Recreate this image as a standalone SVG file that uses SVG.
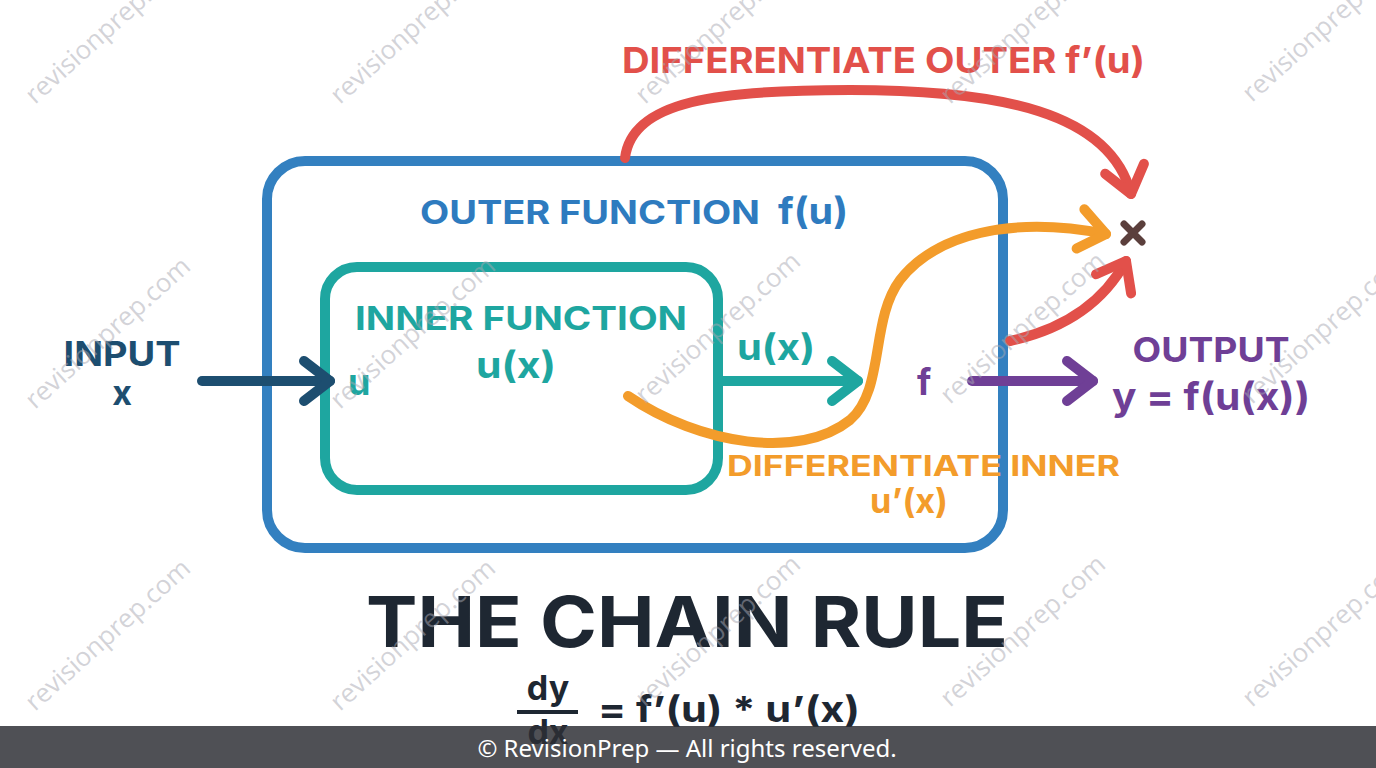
<svg xmlns="http://www.w3.org/2000/svg" width="1376" height="768" viewBox="0 0 1376 768">
<defs>
<style>
.t{font-family:"Inter","Open Sans","Liberation Sans",sans-serif;font-weight:700}
.wm{font-family:"Open Sans","Liberation Sans",sans-serif;font-size:26px;fill:#a8a8b2;fill-opacity:0.5}
.ln{fill:none;stroke-width:10;stroke-linecap:round;stroke-linejoin:round}
.box{fill:none;stroke-width:10}
</style>
<marker id="mNavy" markerUnits="userSpaceOnUse" markerWidth="60" markerHeight="60" refX="0" refY="0" viewBox="-40 -30 50 60" orient="auto" overflow="visible"><path d="M-26,-20 L0,0 L-26,20" fill="none" stroke="#1D4E70" stroke-width="10" stroke-linecap="round" stroke-linejoin="round"/></marker>
<marker id="mTeal" markerUnits="userSpaceOnUse" markerWidth="60" markerHeight="60" refX="0" refY="0" viewBox="-40 -30 50 60" orient="auto" overflow="visible"><path d="M-26,-20 L0,0 L-26,20" fill="none" stroke="#1EA6A0" stroke-width="10" stroke-linecap="round" stroke-linejoin="round"/></marker>
<marker id="mPurple" markerUnits="userSpaceOnUse" markerWidth="60" markerHeight="60" refX="0" refY="0" viewBox="-40 -30 50 60" orient="auto" overflow="visible"><path d="M-26,-20 L0,0 L-26,20" fill="none" stroke="#6F3F96" stroke-width="10" stroke-linecap="round" stroke-linejoin="round"/></marker>
<marker id="mOrange" markerUnits="userSpaceOnUse" markerWidth="60" markerHeight="60" refX="0" refY="0" viewBox="-40 -30 50 60" orient="auto" overflow="visible"><path d="M-26,-20 L0,0 L-26,20" fill="none" stroke="#F39C2B" stroke-width="10" stroke-linecap="round" stroke-linejoin="round"/></marker>
<marker id="mRed" markerUnits="userSpaceOnUse" markerWidth="60" markerHeight="60" refX="0" refY="0" viewBox="-40 -30 50 60" orient="auto" overflow="visible"><path d="M-26,-20 L0,0 L-26,20" fill="none" stroke="#E2504A" stroke-width="10" stroke-linecap="round" stroke-linejoin="round"/></marker>
</defs>
<rect width="1376" height="768" fill="#ffffff"/>

<g id="outer-function">
<rect class="box" x="267" y="161" width="736" height="387" rx="38" stroke="#3380C0"/>
<text class="t" x="420" y="224" font-size="32" fill="#2E7BBF" textLength="340" lengthAdjust="spacingAndGlyphs">OUTER FUNCTION</text>
<text class="t" x="778" y="224" font-size="37" fill="#2E7BBF" textLength="70" lengthAdjust="spacingAndGlyphs">f(u)</text>
<text class="t" x="917" y="395" font-size="36" fill="#6F3F96">f</text>
</g>

<g id="inner-function">
<rect class="box" x="325" y="267" width="393" height="223" rx="32" stroke="#1EA6A0"/>
<text class="t" x="521" y="330" font-size="33" fill="#1EA6A0" text-anchor="middle" textLength="332" lengthAdjust="spacingAndGlyphs">INNER FUNCTION</text>
<text class="t" x="516" y="378" font-size="37" fill="#1EA6A0" text-anchor="middle" textLength="80" lengthAdjust="spacingAndGlyphs">u(x)</text>
<text class="t" x="348" y="395" font-size="36" fill="#1EA6A0">u</text>
</g>

<g id="input">
<text class="t" x="122" y="366" font-size="34" fill="#1D4E70" text-anchor="middle" textLength="117" lengthAdjust="spacingAndGlyphs">INPUT</text>
<text class="t" x="122" y="405" font-size="34" fill="#1D4E70" text-anchor="middle">x</text>
</g>

<g id="output">
<text class="t" x="1211" y="362" font-size="34" fill="#6F3F96" text-anchor="middle" textLength="157" lengthAdjust="spacingAndGlyphs">OUTPUT</text>
<text class="t" x="1211" y="410" font-size="38" fill="#6F3F96" text-anchor="middle" textLength="198" lengthAdjust="spacingAndGlyphs">y = f(u(x))</text>
</g>

<g id="connectors">
<path class="ln" d="M625,158 C632,100 720,90 850,90 C1000,90 1110,112 1131,194" stroke="#E2504A" marker-end="url(#mRed)"/>
<path class="ln" d="M202,381 L330,381" stroke="#1D4E70" marker-end="url(#mNavy)"/>
<path class="ln" d="M722,381 L858,381" stroke="#1EA6A0" marker-end="url(#mTeal)"/>
<text class="t" x="737" y="360" font-size="36" fill="#1EA6A0" textLength="78" lengthAdjust="spacingAndGlyphs">u(x)</text>
<path class="ln" d="M628,396 C700,445 800,460 850,420 C885,390 870,320 900,280 C935,235 1010,215 1106,234" stroke="#F39C2B" marker-end="url(#mOrange)"/>
<path class="ln" d="M1010,341 C1060,330 1102,305 1126,261" stroke="#E2504A" marker-end="url(#mRed)"/>
<path class="ln" d="M972,381 L1093,381" stroke="#6F3F96" marker-end="url(#mPurple)"/>
</g>

<g id="multiply">
<path d="M1124,224 L1142,242 M1142,224 L1124,242" stroke="#5B3F3C" stroke-width="7" stroke-linecap="round" fill="none"/>
</g>

<g id="label-outer-derivative">
<text class="t" x="622" y="73" font-size="36" fill="#E2504A" textLength="523" lengthAdjust="spacingAndGlyphs">DIFFERENTIATE OUTER f’(u)</text>
</g>

<g id="label-inner-derivative">
<text class="t" x="727" y="476" font-size="28" fill="#F39C2B" textLength="393" lengthAdjust="spacingAndGlyphs">DIFFERENTIATE INNER</text>
<text class="t" x="909" y="513" font-size="34" fill="#F39C2B" text-anchor="middle" textLength="78" lengthAdjust="spacingAndGlyphs">u’(x)</text>
</g>

<g id="title">
<text class="t" x="687" y="647" font-size="70" fill="#1E2732" text-anchor="middle" textLength="642" lengthAdjust="spacingAndGlyphs">THE CHAIN RULE</text>
</g>

<g id="formula">
<text class="t" x="548" y="700" font-size="34" fill="#1E2732" text-anchor="middle">dy</text>
<line x1="517" y1="712" x2="578" y2="712" stroke="#1E2732" stroke-width="4"/>
<text class="t" x="548" y="744" font-size="34" fill="#1E2732" text-anchor="middle">dx</text>
<text class="t" x="598" y="722" font-size="36" fill="#1E2732" textLength="262" lengthAdjust="spacingAndGlyphs">= f’(u) * u’(x)</text>
</g>

<g id="watermarks">
<text class="wm" transform="translate(35,105) rotate(-42)">revisionprep.com</text>
<text class="wm" transform="translate(340,105) rotate(-42)">revisionprep.com</text>
<text class="wm" transform="translate(645,105) rotate(-42)">revisionprep.com</text>
<text class="wm" transform="translate(950,105) rotate(-42)">revisionprep.com</text>
<text class="wm" transform="translate(1252,103) rotate(-42)">revisionprep.com</text>
<text class="wm" transform="translate(35,410) rotate(-42)">revisionprep.com</text>
<text class="wm" transform="translate(340,410) rotate(-42)">revisionprep.com</text>
<text class="wm" transform="translate(645,405) rotate(-42)">revisionprep.com</text>
<text class="wm" transform="translate(950,405) rotate(-42)">revisionprep.com</text>
<text class="wm" transform="translate(1252,405) rotate(-42)">revisionprep.com</text>
<text class="wm" transform="translate(35,712) rotate(-42)">revisionprep.com</text>
<text class="wm" transform="translate(340,712) rotate(-42)">revisionprep.com</text>
<text class="wm" transform="translate(645,708) rotate(-42)">revisionprep.com</text>
<text class="wm" transform="translate(950,708) rotate(-42)">revisionprep.com</text>
<text class="wm" transform="translate(1252,708) rotate(-42)">revisionprep.com</text>
</g>

<g id="footer">
<rect x="0" y="726" width="1376" height="42" fill="#2D2F35" fill-opacity="0.84"/>
<text x="687" y="757" font-family="'Noto Sans','Open Sans','Liberation Sans',sans-serif" font-size="24" fill="#ffffff" text-anchor="middle">© RevisionPrep — All rights reserved.</text>
</g>
</svg>
